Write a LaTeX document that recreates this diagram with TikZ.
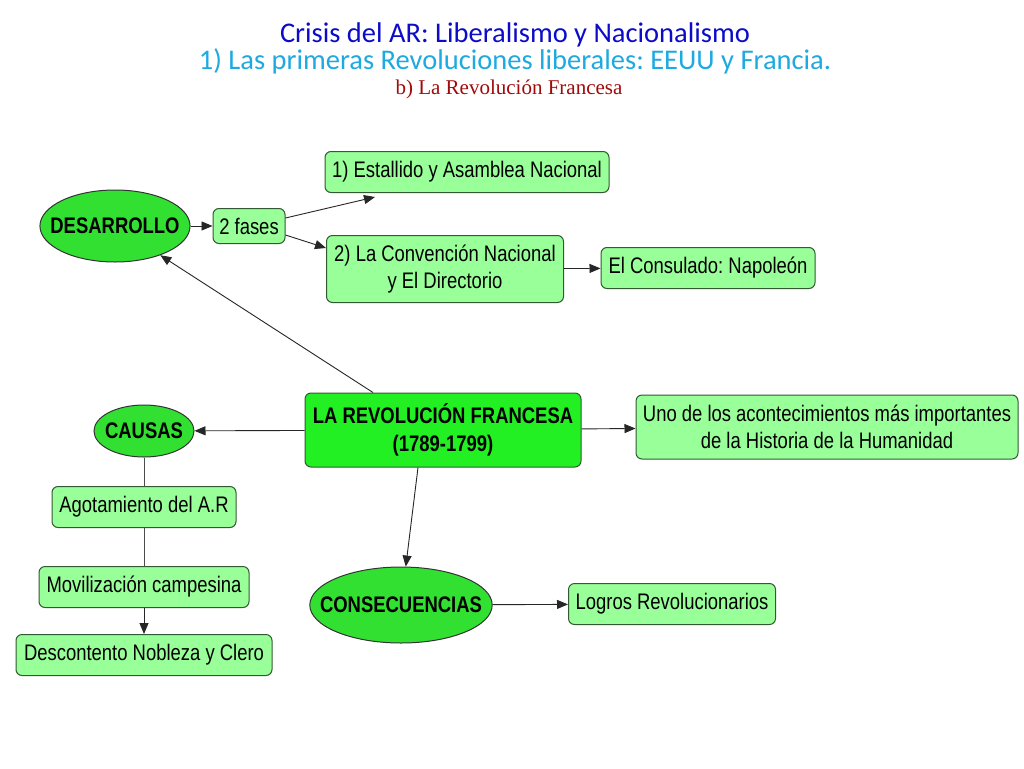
\documentclass[tikz,border=0pt]{standalone}
\usepackage{fontspec}
\newfontfamily\narrowfont{Liberation Sans}[FakeStretch=0.82]
\newfontfamily\titlefont{Carlito}
\newfontfamily\subfont{Liberation Serif}
\usepackage{tikz}
\usetikzlibrary{arrows.meta, shapes.geometric, calc}
\definecolor{Verde}{RGB}{34,240,34}
\definecolor{VerdeOval}{RGB}{50,224,50}
\definecolor{VerdeClaro}{RGB}{153,255,153}
\definecolor{Borde}{RGB}{50,90,50}
\definecolor{Azul}{RGB}{12,12,200}
\definecolor{Celeste}{RGB}{30,170,225}
\definecolor{Granate}{RGB}{160,10,10}
\tikzset{
	caja/.style={draw=Borde, fill=VerdeClaro, rounded corners=6pt, line width=1pt, inner sep=0pt, minimum height=41pt, align=center, font=\narrowfont\fontsize{22.5}{27}\selectfont},
	central/.style={caja, fill=Verde, font=\narrowfont\bfseries\fontsize{22.5}{28}\selectfont},
	ovalo/.style={ellipse, draw=black!80, fill=VerdeOval, line width=1pt, inner ysep=0pt, font=\narrowfont\bfseries\fontsize{22.5}{26}\selectfont},
	titulo/.style={anchor=base, inner sep=0pt, font=\titlefont\fontsize{28.5}{30}\selectfont},
	flecha/.style={-{Triangle[length=11pt,width=9pt]}, line width=0.9pt, draw=black!85},
	linea/.style={line width=0.9pt, draw=black!70},
}

\begin{document}
\frenchspacing
\begin{tikzpicture}[x=1pt, y=-1pt]
\useasboundingbox[fill=white] (0,0) rectangle (1024,768);

% titulos
\node[titulo, text=Azul] (tit1) at (515,43) {Crisis del AR: Liberalismo y Nacionalismo};
\node[titulo, text=Celeste] (tit2) at (515,70) {1) Las primeras Revoluciones liberales: EEUU y Francia.};
\node[titulo, font=\subfont\fontsize{21}{22}\selectfont, text=Granate] (tit3) at (509,94) {b) La Revoluci\'on Francesa};

% nodos
\node[central, minimum width=276pt, minimum height=74pt] (revol) at (443,430) {LA REVOLUCI\'ON FRANCESA\\(1789-1799)};
\node[ovalo, inner xsep=-11.5pt, minimum width=150pt, minimum height=72pt] (desarrollo) at (115,226) {DESARROLLO};
\node[caja, minimum width=72pt, minimum height=35pt] (fases) at (249,226) {2 fases};
\node[caja, minimum width=284pt] (estallido) at (467,172) {1) Estallido y Asamblea Nacional};
\node[caja, minimum width=237pt, minimum height=67pt] (convencion) at (445,269) {2) La Convenci\'on Nacional\\y El Directorio};
\node[caja, minimum width=214pt] (consulado) at (708,268) {El Consulado: Napole\'on};
\node[caja, minimum width=382pt, minimum height=64pt] (importante) at (827,427) {Uno de los acontecimientos m\'as importantes\\de la Historia de la Humanidad};
\node[ovalo, inner xsep=-6.5pt, minimum width=100pt, minimum height=52pt] (causas) at (144,431) {CAUSAS};
\node[caja, minimum width=184pt] (agotamiento) at (144,507) {Agotamiento del A.R};
\node[caja, minimum width=210pt] (movilizacion) at (144,587) {Movilizaci\'on campesina};
\node[caja, minimum width=256pt] (descontento) at (144,655) {Descontento Nobleza y Clero};
\node[ovalo, inner xsep=-16.5pt, minimum width=182pt, minimum height=76pt] (consecuencias) at (401,605) {CONSECUENCIAS};
\node[caja, minimum width=207pt] (logros) at (672,604) {Logros Revolucionarios};

\coordinate (fin1) at (375,197);

% conectores
\draw[flecha] (desarrollo) -- (fases);
\draw[flecha] ([yshift=8pt]fases.east) -- (fin1);
\draw[flecha] ([yshift=-9pt]fases.east) -- ([yshift=21pt]convencion.west);
\draw[flecha] (convencion) -- (consulado);
\draw[flecha] ([xshift=-70pt]revol.north) -- (desarrollo);
\draw[flecha] (revol) -- (causas);
\draw[flecha] (revol) -- (importante);
\draw[flecha] ([xshift=-25pt]revol.south) -- (consecuencias);
\draw[flecha] (consecuencias) -- (logros);
\draw[linea] (causas) -- (agotamiento);
\draw[linea] (agotamiento) -- (movilizacion);
\draw[flecha] (movilizacion) -- (descontento);

\end{tikzpicture}
\end{document}
